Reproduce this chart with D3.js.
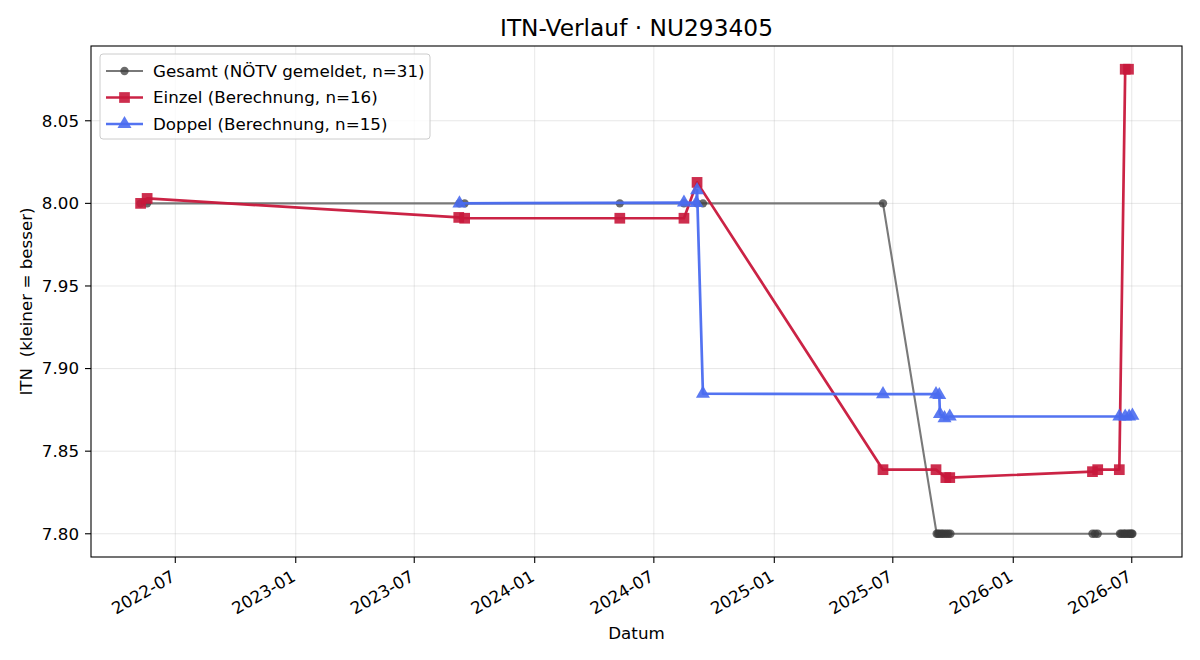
<!DOCTYPE html>
<html>
<head>
<meta charset="utf-8">
<script src="https://cdn.jsdelivr.net/npm/d3@7"></script>
<style>
  body { margin: 0; background: #fff; }
  svg { font-family: "DejaVu Sans", sans-serif; }
</style>
</head>
<body>
<div id="vis"></div>
<script>
// Gesamt (NÖTV gemeldet)
const gesamtDates = ["2022-05-09","2022-05-19","2023-09-08","2023-09-16","2024-05-10","2024-08-16","2024-09-05","2024-09-14","2025-06-16",
  "2025-09-06","2025-09-08","2025-09-10","2025-09-13","2025-09-15","2025-09-18","2025-09-21","2025-09-24","2025-09-27",
  "2026-05-02","2026-05-06","2026-05-10",
  "2026-06-13","2026-06-15","2026-06-18","2026-06-20","2026-06-22","2026-06-25","2026-06-27","2026-06-29","2026-07-01","2026-07-02"];
const gesamtValues = [8.00,8.00,8.00,8.00,8.00,8.00,8.00,8.00,8.00,
  7.80,7.80,7.80,7.80,7.80,7.80,7.80,7.80,7.80,
  7.80,7.80,7.80,
  7.80,7.80,7.80,7.80,7.80,7.80,7.80,7.80,7.80,7.80];

// Einzel (Berechnung)
const einzelDates = ["2022-05-09","2022-05-19","2023-09-07","2023-09-16","2024-05-10","2024-08-16","2024-09-05","2025-06-16",
  "2025-09-05","2025-09-20","2025-09-26","2026-05-02","2026-05-10","2026-06-12","2026-06-21","2026-06-26"];
const einzelValues = [8.000,8.003,7.9915,7.991,7.991,7.991,8.0127,7.8388,
  7.8388,7.834,7.834,7.8376,7.8388,7.8388,8.0812,8.0812];

// Doppel (Berechnung)
const doppelDates = ["2023-09-08","2024-08-16","2024-09-04","2024-09-05","2024-09-14","2025-06-16","2025-09-05","2025-09-10",
  "2025-09-11","2025-09-18","2025-09-26","2026-06-12","2026-06-21","2026-06-27","2026-07-02"];
const doppelValues = [8.000,8.0005,8.0003,8.008,7.8848,7.8845,7.8845,7.884,
  7.8725,7.870,7.871,7.871,7.871,7.871,7.8715];

const yTicks = [7.80, 7.85, 7.90, 7.95, 8.00, 8.05];

const W = 1200, H = 660;
const margin = {top: 46, right: 18, bottom: 103, left: 91};
const iw = W - margin.left - margin.right, ih = H - margin.top - margin.bottom;
const fs = 16.7;

const parse = d3.timeParse("%Y-%m-%d");
function mk(dates, vals) { return dates.map((d, i) => ({date: parse(d), v: vals[i]})); }

const series = [
  {name: "Gesamt (NÖTV gemeldet, n=31)", data: mk(gesamtDates, gesamtValues), line: "#727272", lw: 2.1, lop: 0.95,
   fill: "#3a3a3a", fop: 0.75, shape: "circle"},
  {name: "Einzel (Berechnung, n=16)", data: mk(einzelDates, einzelValues), line: "#c8173b", lw: 2.7, lop: 0.95,
   fill: "#c8173b", fop: 0.9, shape: "square"},
  {name: "Doppel (Berechnung, n=15)", data: mk(doppelDates, doppelValues), line: "#4a6cf0", lw: 2.7, lop: 0.95,
   fill: "#4a6cf0", fop: 0.9, shape: "triangle"}
];

const all = series.flatMap(s => s.data);
const xe = d3.extent(all, d => d.date.getTime());
const xpad = (xe[1] - xe[0]) * 0.05;
const ye = d3.extent(all, d => d.v);
const ypad = (ye[1] - ye[0]) * 0.05;

const x = d3.scaleTime().domain([new Date(xe[0] - xpad), new Date(xe[1] + xpad)]).range([0, iw]);
const y = d3.scaleLinear().domain([ye[0] - ypad, ye[1] + ypad]).range([ih, 0]);

const svg = d3.select("#vis").append("svg").attr("width", W).attr("height", H);
const g = svg.append("g").attr("transform", `translate(${margin.left},${margin.top})`);

const xTicks = x.ticks(d3.timeMonth.every(6));

// grid
g.append("g").selectAll("line").data(xTicks).join("line")
  .attr("x1", d => x(d)).attr("x2", d => x(d)).attr("y1", 0).attr("y2", ih)
  .attr("stroke", "#b0b0b0").attr("stroke-opacity", 0.3).attr("stroke-width", 1);
g.append("g").selectAll("line").data(yTicks).join("line")
  .attr("y1", d => y(d)).attr("y2", d => y(d)).attr("x1", 0).attr("x2", iw)
  .attr("stroke", "#b0b0b0").attr("stroke-opacity", 0.3).attr("stroke-width", 1);

// series
const line = d3.line().x(d => x(d.date)).y(d => y(d.v));
const sym = {circle: d3.symbolCircle, square: d3.symbolSquare, triangle: d3.symbolTriangle};
const symSize = {circle: 55, square: 115, triangle: 85};

series.forEach(s => {
  g.append("path").datum(s.data).attr("d", line)
    .attr("fill", "none").attr("stroke", s.line).attr("stroke-width", s.lw)
    .attr("stroke-opacity", s.lop).attr("stroke-linejoin", "round");
  g.append("g").selectAll("path").data(s.data).join("path")
    .attr("transform", d => `translate(${x(d.date)},${y(d.v)})`)
    .attr("d", d3.symbol(sym[s.shape], symSize[s.shape]))
    .attr("fill", s.fill).attr("fill-opacity", s.fop);
});

// frame
g.append("rect").attr("width", iw).attr("height", ih).attr("fill", "none").attr("stroke", "#000").attr("stroke-width", 1.1);

// x axis
const xa = g.append("g").attr("transform", `translate(0,${ih})`);
xa.selectAll("line").data(xTicks).join("line")
  .attr("x1", d => x(d)).attr("x2", d => x(d)).attr("y1", 0).attr("y2", 6)
  .attr("stroke", "#000").attr("stroke-width", 1.1);
xa.selectAll("text").data(xTicks).join("text")
  .attr("transform", d => `translate(${x(d) + 1},${23}) rotate(-30)`)
  .attr("text-anchor", "end").attr("font-size", fs).attr("fill", "#000")
  .text(d3.timeFormat("%Y-%m"));

// y axis
const ya = g.append("g");
ya.selectAll("line").data(yTicks).join("line")
  .attr("y1", d => y(d)).attr("y2", d => y(d)).attr("x1", -6).attr("x2", 0)
  .attr("stroke", "#000").attr("stroke-width", 1.1);
ya.selectAll("text").data(yTicks).join("text")
  .attr("x", -12).attr("y", d => y(d)).attr("dy", "0.35em")
  .attr("text-anchor", "end").attr("font-size", fs).attr("fill", "#000")
  .text(d3.format(".2f"));

// labels
svg.append("text").attr("x", margin.left + iw / 2).attr("y", 633).attr("dy", "0.35em")
  .attr("text-anchor", "middle").attr("font-size", fs).text("Datum");
svg.append("text").attr("transform", `translate(26,${margin.top + ih / 2}) rotate(-90)`).attr("dy", "0.35em")
  .attr("text-anchor", "middle").attr("font-size", fs).attr("xml:space", "preserve").text("ITN  (kleiner = besser)");
svg.append("text").attr("x", margin.left + iw / 2).attr("y", 28).attr("dy", "0.35em")
  .attr("text-anchor", "middle").attr("font-size", 23.3).text("ITN-Verlauf · NU293405");

// legend
const lg = g.append("g").attr("transform", "translate(9,8)");
lg.append("rect").attr("width", 330).attr("height", 85).attr("rx", 3)
  .attr("fill", "#fff").attr("fill-opacity", 0.8).attr("stroke", "#cccccc");
series.forEach((s, i) => {
  const yy = 17 + i * 26.5;
  lg.append("line").attr("x1", 6).attr("x2", 43).attr("y1", yy).attr("y2", yy)
    .attr("stroke", s.line).attr("stroke-width", s.lw).attr("stroke-opacity", s.lop);
  lg.append("path").attr("transform", `translate(24.5,${yy})`)
    .attr("d", d3.symbol(sym[s.shape], symSize[s.shape]))
    .attr("fill", s.fill).attr("fill-opacity", s.fop);
  lg.append("text").attr("x", 53).attr("y", yy).attr("dy", "0.35em")
    .attr("font-size", fs).text(s.name);
});
</script>
</body>
</html>
